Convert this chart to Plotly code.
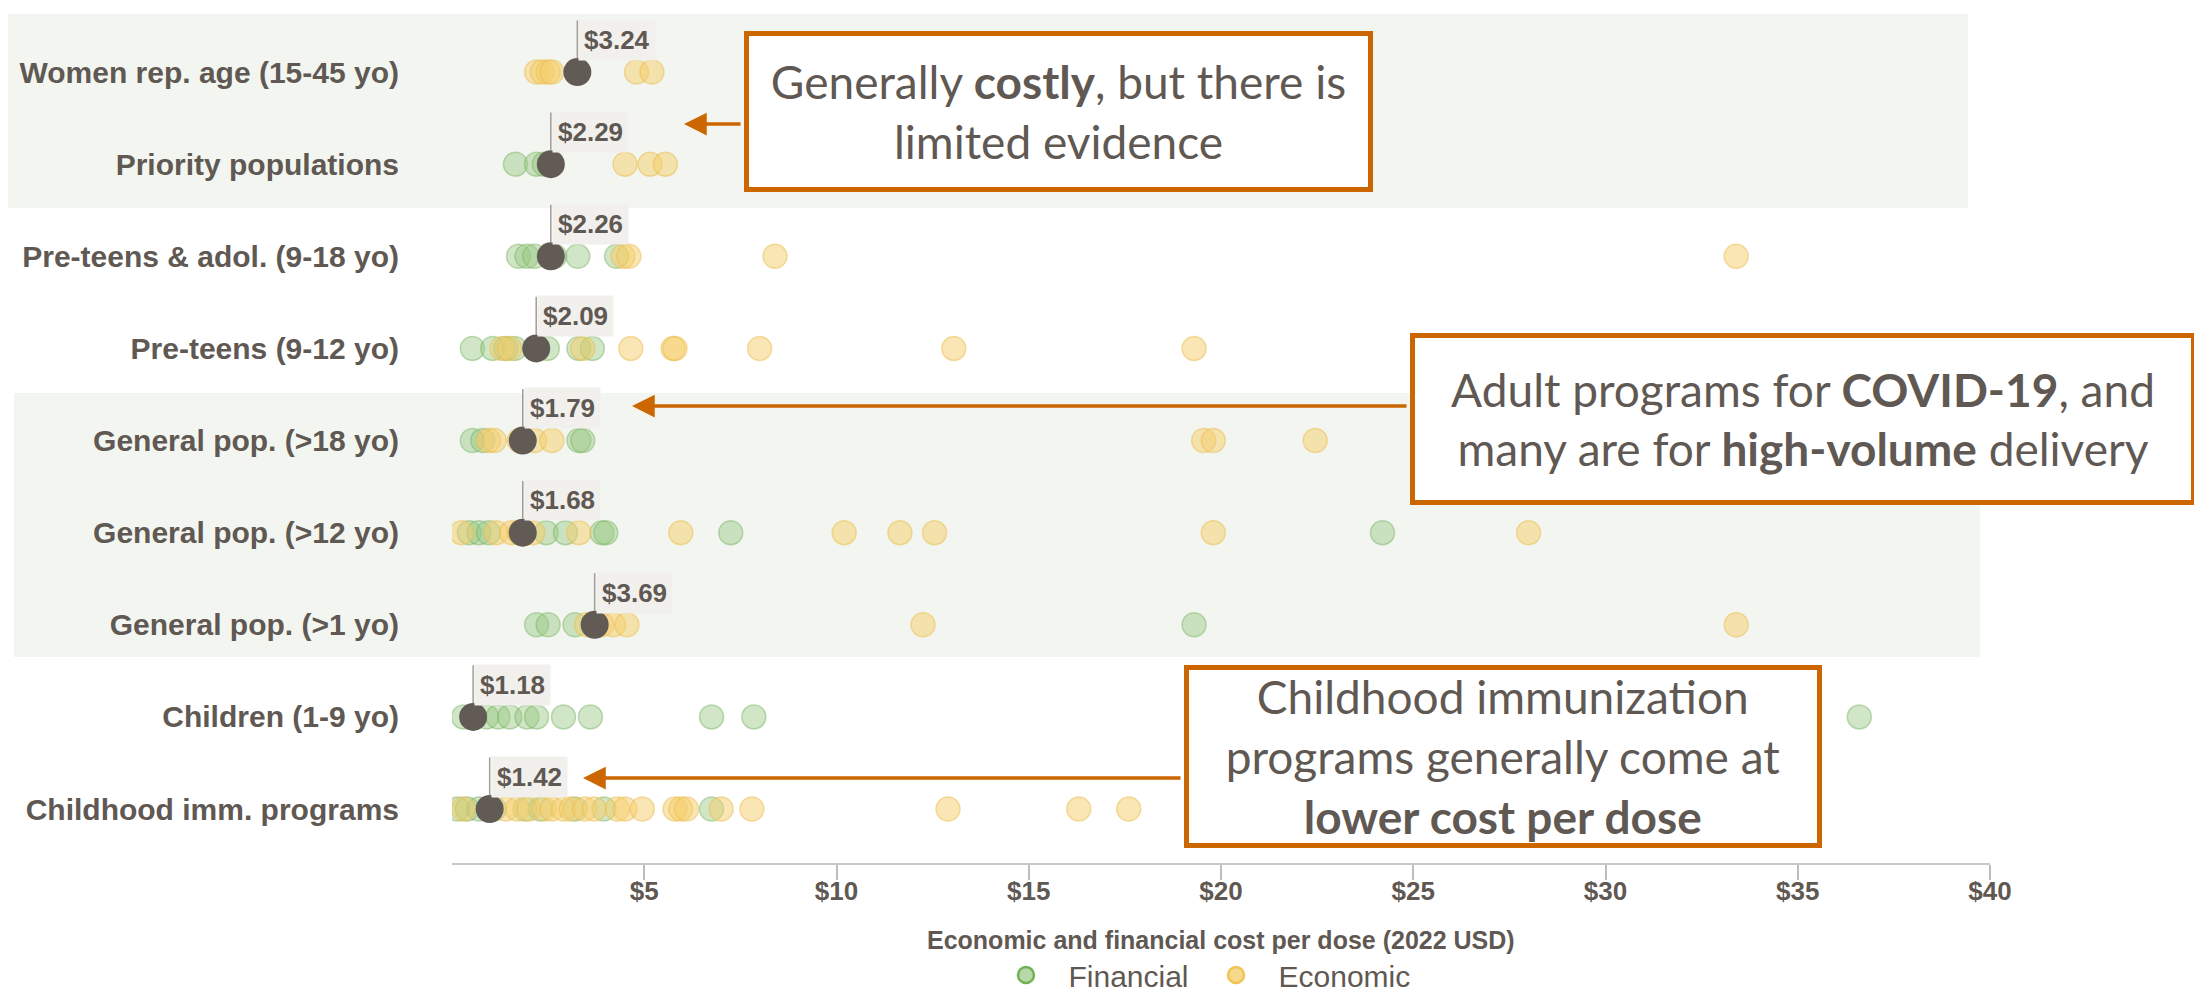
import plotly.graph_objects as go

# ---------------- data ----------------
categories = [
    "Women rep. age (15-45 yo)",
    "Priority populations",
    "Pre-teens & adol. (9-18 yo)",
    "Pre-teens (9-12 yo)",
    "General pop. (>18 yo)",
    "General pop. (>12 yo)",
    "General pop. (>1 yo)",
    "Children (1-9 yo)",
    "Childhood imm. programs",
]

financial_costs = [
    [],
    [1.65, 2.2, 2.4],
    [1.73, 1.95, 2.15, 2.67, 3.27, 4.28],
    [0.53, 1.06, 1.4, 1.63, 2.48, 3.3, 3.65],
    [0.53, 0.8, 3.3, 3.4],
    [0.45, 0.7, 0.95, 2.45, 2.95, 3.9, 4.0, 7.25, 24.2],
    [2.2, 2.5, 3.2, 19.3],
    [0.3, 0.55, 0.9, 1.2, 1.5, 1.95, 2.2, 2.9, 3.6, 6.75, 7.85, 36.6],
    [0.15, 0.4, 0.7, 1.1, 1.9, 2.3, 3.2, 3.95, 6.75],
]

economic_costs = [
    [2.2, 2.35, 2.5, 2.6, 4.8, 5.2],
    [4.5, 5.15, 5.55],
    [4.45, 4.6, 8.4, 33.4],
    [1.3, 1.5, 3.4, 4.65, 5.75, 5.8, 8.0, 13.05, 19.3],
    [0.95, 1.1, 1.75, 2.15, 2.6, 19.55, 19.8, 22.45],
    [0.25, 1.15, 1.55, 1.75, 2.1, 3.3, 5.95, 10.2, 11.65, 12.55, 19.8, 28.0],
    [3.5, 3.9, 4.2, 4.55, 12.25, 33.4],
    [],
    [0.3, 1.4, 1.7, 2.0, 2.4, 2.6, 2.9, 3.1, 3.45, 3.7, 4.3, 4.5, 4.95, 5.8,
     5.95, 6.1, 7.0, 7.8, 12.9, 16.3, 17.6],
]

# median marker position (as drawn) and the median value printed beside it
median_positions = [3.26, 2.57, 2.57, 2.19, 1.84, 1.84, 3.71, 0.55, 0.98]
median_values = [3.24, 2.29, 2.26, 2.09, 1.79, 1.68, 3.69, 1.18, 1.42]

x_tick_values = [5, 10, 15, 20, 25, 30, 35, 40]
x_tick_labels = ["$5", "$10", "$15", "$20", "$25", "$30", "$35", "$40"]

axis_title = "Economic and financial cost per dose (2022 USD)"
series_names = ["Financial", "Economic"]

callouts = [
    "Generally <b>costly</b>, but there is<br>limited evidence",
    "Adult programs for <b>COVID-19</b>, and<br>many are for <b>high-volume</b> delivery",
    "Childhood immunization<br>programs generally come at<br><b>lower cost per dose</b>",
]

# ---------------- layout geometry ----------------
# page body has an 8px margin; the figure is sized so that it fills the window
OFF = 8
WIN_W, WIN_H = 2202, 1000
W, H = WIN_W - OFF, WIN_H - OFF
PLOT_L, PLOT_R, PLOT_T, PLOT_B = 452, 1990, 14, 863   # window pixels
L = PLOT_L - OFF
T = PLOT_T - OFF
R = W - (PLOT_R - OFF)
B = H - (PLOT_B - OFF)
PW, PH = PLOT_R - PLOT_L, PLOT_B - PLOT_T


def px(x):
    return (x - PLOT_L) / PW


def py(y):
    return (PLOT_B - y) / PH


TEXT = "#5f5853"
ORANGE = "#cc6600"
DARK = "#625b55"
BAND = "#f3f6f0"
FONT_B = "Liberation Sans, Arial, sans-serif"
FONT_BOX = "Lato, Open Sans, sans-serif"

n = len(categories)
row_y = [n - 1 - i for i in range(n)]

fig = go.Figure()

# data points
fx, fy, ex, ey = [], [], [], []
for i in range(n):
    fx += financial_costs[i]
    fy += [row_y[i]] * len(financial_costs[i])
    ex += economic_costs[i]
    ey += [row_y[i]] * len(economic_costs[i])

fig.add_trace(go.Scatter(
    x=fx, y=fy, mode="markers", showlegend=False, hoverinfo="x",
    marker=dict(size=24, color="rgba(150,200,128,0.45)",
                line=dict(color="rgba(120,178,98,0.45)", width=1.5)),
))
fig.add_trace(go.Scatter(
    x=ex, y=ey, mode="markers", showlegend=False, hoverinfo="x",
    marker=dict(size=24, color="rgba(246,205,105,0.5)",
                line=dict(color="rgba(236,190,80,0.5)", width=1.5)),
))
fig.add_trace(go.Scatter(
    x=median_positions, y=row_y, mode="markers", showlegend=False,
    marker=dict(size=28, color=DARK, line=dict(width=0)),
))

# legend-only traces
fig.add_trace(go.Scatter(
    x=[None], y=[None], mode="markers", name=series_names[0],
    marker=dict(size=20, color="#b7d8a8", line=dict(color="#72b257", width=2.5)),
))
fig.add_trace(go.Scatter(
    x=[None], y=[None], mode="markers", name=series_names[1],
    marker=dict(size=20, color="#f7d98c", line=dict(color="#f0c555", width=2.5)),
))

shapes = []
# background bands
shapes.append(dict(type="rect", xref="paper", yref="paper", layer="below",
                   x0=px(0), x1=px(1968), y0=py(208), y1=py(14),
                   fillcolor=BAND, line=dict(width=0)))
shapes.append(dict(type="rect", xref="paper", yref="paper", layer="below",
                   x0=px(14), x1=px(1980), y0=py(657), y1=py(393),
                   fillcolor=BAND, line=dict(width=0)))

annotations = []
for i in range(n):
    shapes.append(dict(type="line", xref="x", yref="y", layer="above",
                       x0=median_positions[i], x1=median_positions[i],
                       y0=row_y[i] + 0.15, y1=row_y[i] + 0.56,
                       line=dict(color="#a29c96", width=1.5)))
    annotations.append(dict(
        x=median_positions[i], y=row_y[i] + 0.35, xref="x", yref="y",
        text=f"<b>${median_values[i]:.2f}</b>", showarrow=False,
        xanchor="left", yanchor="middle", xshift=1,
        bgcolor="#f1f0ec", borderpad=5,
        font=dict(family=FONT_B, size=26, color=TEXT),
    ))

# axis title
annotations.append(dict(
    x=0.5, y=py(940), xref="paper", yref="paper", showarrow=False,
    text=f"<b>{axis_title}</b>", xanchor="center", yanchor="middle",
    font=dict(family=FONT_B, size=25, color=TEXT),
))

# callout boxes  (left, top, right, bottom in window px)
boxes = [(744, 31, 1373, 192), (1410, 333, 2196, 505), (1184, 665, 1822, 848)]
for (x0, y0, x1, y1), txt in zip(boxes, callouts):
    bw = 5
    annotations.append(dict(
        x=px((x0 + x1) / 2), y=py((y0 + y1) / 2), xref="paper", yref="paper",
        text=txt, showarrow=False, xanchor="center", yanchor="middle",
        width=(x1 - x0) - 2 * bw, height=(y1 - y0) - 2 * bw,
        align="center", valign="middle",
        bgcolor="white", bordercolor=ORANGE, borderwidth=bw, borderpad=0,
        font=dict(family=FONT_BOX, size=46, color=TEXT),
    ))

# arrows: (tip_x, tip_y, tail_x)
arrows = [(684, 124, 742), (632, 406, 1408), (583, 778, 1182)]
for tx, ty, tail in arrows:
    annotations.append(dict(
        x=px(tx), y=py(ty), xref="paper", yref="paper",
        ax=tail - tx, ay=0, axref="pixel", ayref="pixel",
        text="", showarrow=True, arrowhead=2, arrowsize=1.3,
        arrowwidth=3.5, arrowcolor=ORANGE, standoff=0,
    ))

fig.update_layout(
    width=W, height=H,
    margin=dict(l=L, r=R, t=T, b=B, pad=0, autoexpand=False),
    paper_bgcolor="white", plot_bgcolor="rgba(0,0,0,0)",
    shapes=shapes, annotations=annotations,
    showlegend=True,
    legend=dict(orientation="h", x=0.486, xanchor="center",
                xref="paper", yref="container", y=1 - (975 - OFF) / H,
                yanchor="middle", font=dict(family=FONT_B, size=30, color=TEXT),
                itemsizing="trace", itemwidth=75, bgcolor="rgba(0,0,0,0)"),
    xaxis=dict(
        range=[0, 40], tickvals=x_tick_values, ticktext=[f"<b>{t}</b>" for t in x_tick_labels],
        showgrid=False, zeroline=False, showline=True, linecolor="#c8c8c8", linewidth=2,
        ticks="outside", ticklen=15, tickcolor="#bdbdbd", tickwidth=1.5,
        ticklabelstandoff=-11,
        tickfont=dict(family=FONT_B, size=26, color=TEXT),
        automargin=False, fixedrange=True,
    ),
    yaxis=dict(
        range=[-0.586, 8.63], tickvals=row_y,
        ticktext=[f"<b>{c}</b>" for c in categories],
        showgrid=False, zeroline=False, showline=False, ticks="",
        ticklabelstandoff=52,
        tickfont=dict(family=FONT_B, size=30, color=TEXT),
        automargin=False, fixedrange=True,
    ),
)

fig.write_html("out.html")
